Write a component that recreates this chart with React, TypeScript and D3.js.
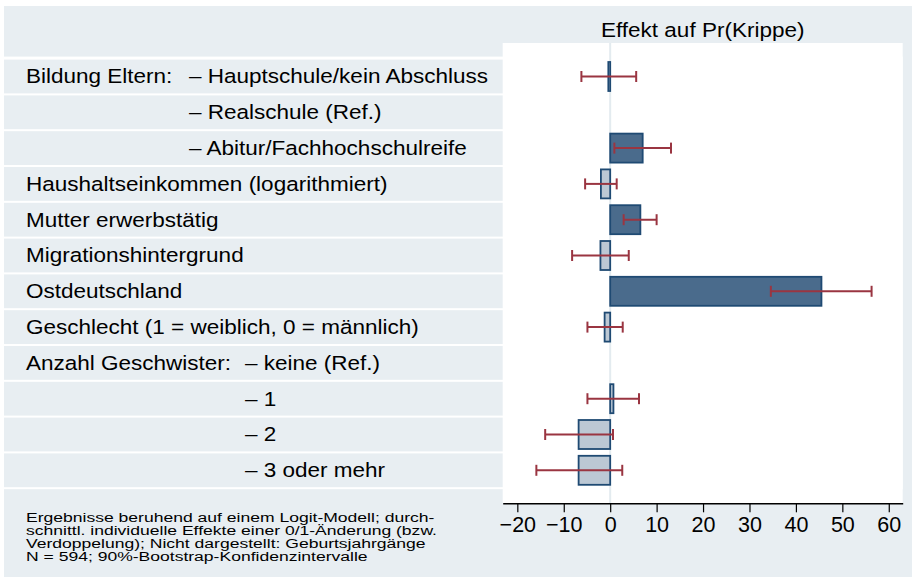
import React, { useRef, useEffect } from 'react';
import { scaleLinear, scaleBand, axisBottom, select } from 'd3';

// row texts (left column), the sub-label column and the estimates
const mainLabels = [
  'Bildung Eltern:', '', '', 'Haushaltseinkommen (logarithmiert)', 'Mutter erwerbstätig',
  'Migrationshintergrund', 'Ostdeutschland', 'Geschlecht (1 = weiblich, 0 = männlich)',
  'Anzahl Geschwister:', '', '', '',
];
const subLabels = [
  '– Hauptschule/kein Abschluss', '– Realschule (Ref.)', '– Abitur/Fachhochschulreife',
  '', '', '', '', '', '– keine (Ref.)', '– 1', '– 2', '– 3 oder mehr',
];
const subGroup = ['bildung', 'bildung', 'bildung', '', '', '', '', '', 'geschw', 'geschw', 'geschw', 'geschw'];
const effects = [-0.4, null, 7.0, -2.0, 6.5, -2.1, 45.5, -1.2, null, 0.7, -6.8, -6.8];
const ciLow = [-6.2, null, 0.9, -5.4, 2.9, -8.2, 34.6, -4.9, null, -4.9, -14.0, -15.9];
const ciHigh = [5.6, null, 13.1, 1.4, 10.0, 4.0, 56.3, 2.7, null, 6.2, 0.6, 2.6];
const xTicks = [-20, -10, 0, 10, 20, 30, 40, 50, 60];
const title = 'Effekt auf Pr(Krippe)';
const notes = [
  'Ergebnisse beruhend auf einem Logit-Modell; durch-',
  'schnittl. individuelle Effekte einer 0/1-Änderung (bzw.',
  'Verdoppelung); Nicht dargestellt: Geburtsjahrgänge',
  'N = 594; 90%-Bootstrap-Konfidenzintervalle',
];

const W = 912;
const H = 582;
const BG = '#e8eef2';
const FONT = '"Liberation Sans", Arial, Helvetica, sans-serif';
const SX = 1.155; // text in the source is a bit wider than normal
const indent = { bildung: 189, geschw: 245 };

const plot = { left: 502.7, right: 902.7, top: 43, bottom: 503.3 };
const rowsTop = 58.6;
const rowStep = 35.8;

export default function App() {
  const axisRef = useRef(null);

  const x = scaleLinear().domain([-23.15, 63.0]).range([plot.left, plot.right]);
  const rows = mainLabels.map((_, i) => i);
  const y = scaleBand<number>()
    .domain(rows)
    .range([rowsTop, rowsTop + rowStep * rows.length])
    .padding(0);
  const barH = 29;
  const capH = 11;
  const rowsEnd = rowsTop + rowStep * rows.length;

  useEffect(() => {
    const g = select(axisRef.current);
    g.call(axisBottom(x).tickValues(xTicks).tickSize(9).tickSizeOuter(0).tickPadding(4) as any);
    g.select('.domain').attr('stroke', '#000').attr('stroke-width', 1.4);
    g.selectAll('.tick line').attr('stroke', '#000').attr('stroke-width', 1.2);
    g.selectAll('.tick text')
      .attr('fill', '#000')
      .attr('font-size', 21.5)
      .attr('font-family', FONT)
      .attr('dy', '0.74em');
  }, []);

  const zero = x(0);

  return (
    <svg width={W} height={H} style={{ position: 'absolute', left: 0, top: 0, background: '#fff' }}>
      {/* title band */}
      <rect x={4} y={6} width={W - 4} height={50.6} fill={BG} />
      {/* row bands */}
      {rows.map((i) => (
        <rect key={'b' + i} x={4} y={(y(i) as number) + 1} width={plot.left - 4 + 1} height={rowStep - 2} fill={BG} />
      ))}
      {/* right gutter beside plot */}
      <rect x={plot.right} y={6} width={W - plot.right} height={571} fill={BG} />
      {/* footer band */}
      <rect x={4} y={rowsEnd + 1} width={W - 4} height={577 - (rowsEnd + 1)} fill={BG} />

      {/* plot area */}
      <rect x={plot.left} y={plot.top} width={plot.right - plot.left} height={plot.bottom - plot.top} fill="#fff" />
      <line x1={zero} x2={zero} y1={plot.top} y2={plot.bottom} stroke="#e3ebef" strokeWidth={2} />

      <text
        transform={`translate(${(plot.left + plot.right) / 2},37.3) scale(${SX},1)`}
        textAnchor="middle"
        fontSize={19.5}
        fontFamily={FONT}
        fill="#000"
      >
        {title}
      </text>

      {rows.map((i) => {
        const cy = (y(i) as number) + rowStep / 2;
        return (
          <g key={'l' + i} fontSize={19.5} fontFamily={FONT} fill="#000">
            {mainLabels[i] && (
              <text transform={`translate(26,${cy + 6.8}) scale(${SX},1)`}>{mainLabels[i]}</text>
            )}
            {subLabels[i] && (
              <text transform={`translate(${indent[subGroup[i]]},${cy + 6.8}) scale(${SX},1)`}>{subLabels[i]}</text>
            )}
          </g>
        );
      })}

      {rows.map((i) => {
        const v = effects[i];
        if (v === null) return null;
        const cy = (y(i) as number) + rowStep / 2;
        const sig = ciLow[i] > 0 || ciHigh[i] < 0;
        const x0 = Math.min(x(0), x(v));
        const x1 = Math.max(x(0), x(v));
        return (
          <g key={'m' + i}>
            <rect
              x={x0}
              y={cy - barH / 2}
              width={Math.max(x1 - x0, 1)}
              height={barH}
              fill={sig ? '#4a6b8c' : '#bcc8d4'}
              stroke="#1f4a73"
              strokeWidth={1.8}
            />
            <g stroke="#9a3541" strokeWidth={2}>
              <line x1={x(ciLow[i])} x2={x(ciHigh[i])} y1={cy} y2={cy} />
              <line x1={x(ciLow[i])} x2={x(ciLow[i])} y1={cy - capH / 2} y2={cy + capH / 2} />
              <line x1={x(ciHigh[i])} x2={x(ciHigh[i])} y1={cy - capH / 2} y2={cy + capH / 2} />
            </g>
          </g>
        );
      })}

      <g ref={axisRef} transform={`translate(0,${plot.bottom})`} />

      {notes.map((t, k) => (
        <text
          key={'n' + k}
          transform={`translate(26,${522 + k * 13}) scale(1.3,1)`}
          fontSize={13.5}
          fontFamily={FONT}
          fill="#000"
        >
          {t}
        </text>
      ))}
    </svg>
  );
}
